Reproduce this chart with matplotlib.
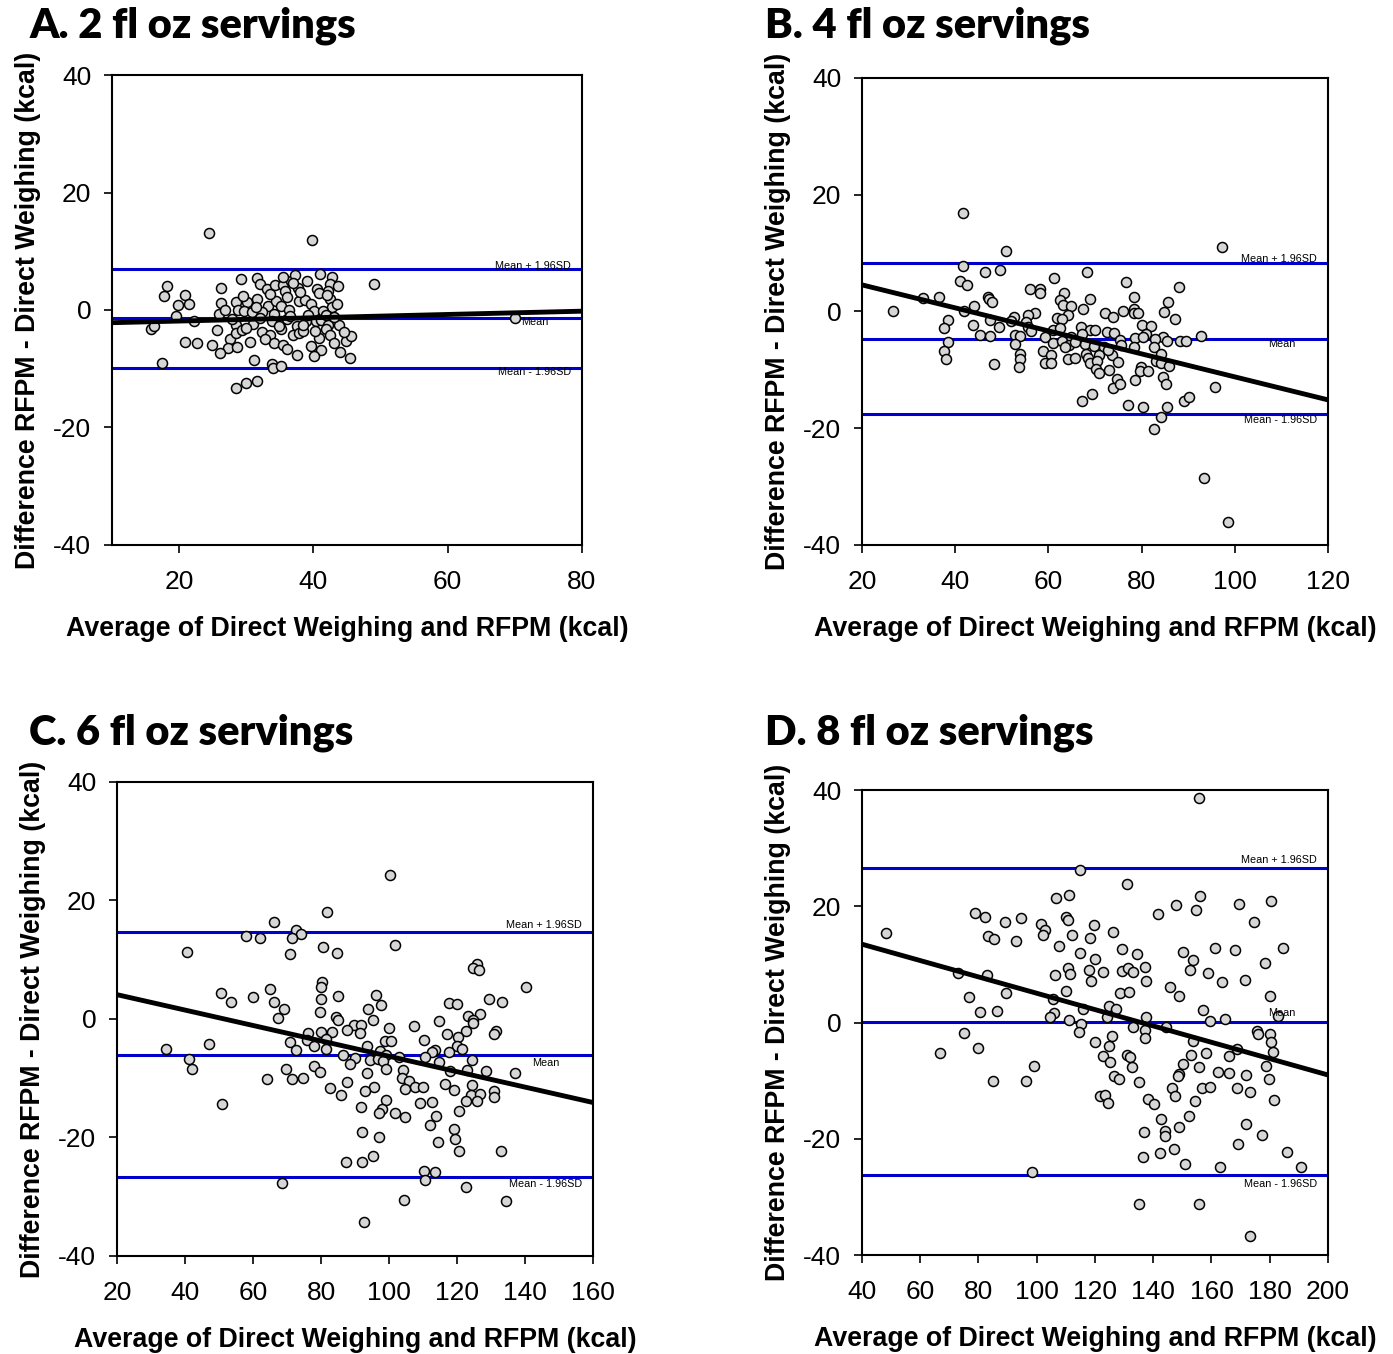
import numpy as np
import matplotlib
matplotlib.use("Agg")
import matplotlib.pyplot as plt

plt.rcParams['font.family'] = ['Liberation Sans', 'DejaVu Sans']
plt.rcParams['axes.unicode_minus'] = False

# --- A. 2 fl oz ---
a_avg = [24.4, 39.8, 49.0, 18.2, 17.8, 26.3, 29.2, 31.6, 32.0, 33.1, 34.3, 35.4, 35.8, 36.7, 37.3, 37.7,
         39.1, 40.5, 41.0, 42.7, 42.5, 43.7, 42.1, 20.9, 19.8, 21.5, 19.5, 26.3, 28.5, 30.1, 31.6, 33.3,
         34.5, 35.1, 36.0, 37.9, 38.8, 39.6, 42.4, 42.8, 40.1, 41.5, 26.0, 26.9, 28.8, 29.6, 30.9, 32.3,
         34.2, 36.4, 15.8, 16.3, 22.2, 25.7, 28.5, 31.0, 32.0, 33.8, 35.2, 36.0, 37.5, 38.9, 40.4, 41.2,
         42.1, 43.8, 27.6, 28.5, 29.3, 32.3, 33.5, 35.2, 36.9, 37.9, 38.4, 40.8, 41.9, 42.5, 20.9, 22.6,
         24.9, 27.3, 28.6, 30.6, 34.2, 35.4, 36.1, 39.6, 41.1, 43.1, 44.8, 45.6, 26.1, 31.1, 37.5, 40.1,
         44.0, 45.5, 17.4, 33.9, 34.0, 35.2, 28.4, 29.9, 31.6, 70.0,
         33.5, 38.0, 40.8, 36.5, 39.2, 41.8, 43.0, 34.8, 30.0, 37.0, 42.0, 35.5, 38.5, 40.2, 32.8, 44.5,
         27.8, 29.5, 31.5, 43.5]
a_diff = [13.1, 11.9, 4.5, 4.1, 2.4, 3.7, 5.2, 5.5, 4.5, 3.6, 4.3, 4.3, 3.2, 5.0, 6.0, 3.7,
          4.9, 3.6, 6.1, 5.7, 4.5, 4.0, 3.3, 2.5, 0.8, 1.0, -1.0, 1.2, 1.4, 1.4, 1.8, 0.7,
          1.6, 0.6, 2.2, 1.6, 1.7, 1.0, 1.9, 0.5, -0.1, -0.1, -0.7, 0.0, 0.0, -0.1, -0.4, -0.3,
          -0.6, 0.0, -3.3, -2.7, -1.8, -3.4, -2.6, -2.3, -1.4, -1.8, -1.8, -1.5, -2.7, -1.9, -1.9, -1.7,
          -2.6, -2.5, -4.9, -4.0, -3.4, -3.7, -4.3, -3.2, -4.3, -4.0, -3.6, -4.8, -3.2, -4.3, -5.4, -5.7,
          -5.9, -6.4, -6.3, -5.4, -5.6, -6.0, -6.6, -6.1, -6.8, -5.7, -5.2, -4.5, -7.3, -8.5, -7.7, -7.9,
          -7.1, -8.2, -9.1, -9.2, -9.9, -9.6, -13.2, -12.4, -12.1, -1.4,
          2.8, 3.0, 2.9, -1.0, -0.8, -0.9, -1.2, -2.8, -3.0, 4.6, 2.5, 5.6, -2.5, -3.5, -5.0, -3.8,
          -1.6, 2.4, 0.5, 1.0]

# --- B. 4 fl oz ---
b_avg = [41.6, 97.3, 50.8, 41.7, 46.5, 49.7, 68.2, 61.3, 41.0, 42.5, 76.6, 88.1, 56.1, 58.1, 58.1, 63.3,
         78.4, 33.2, 36.5, 47.0, 47.3, 48.0, 62.5, 69.0, 85.7, 44.1, 63.2, 64.9, 67.4, 78.4, 26.7, 42.0,
         57.2, 55.6, 72.1, 76.0, 78.4, 79.3, 84.9, 64.2, 73.8, 61.8, 62.9, 38.4, 47.5, 52.6, 51.9, 87.1,
         55.3, 37.7, 43.9, 49.4, 55.6, 56.3, 67.1, 68.9, 69.9, 61.0, 62.5, 80.1, 82.1, 72.5, 74.1, 45.4,
         47.5, 52.8, 53.9, 59.2, 64.8, 67.2, 80.9, 84.7, 92.7, 38.4, 52.8, 60.9, 63.0, 64.4, 67.8, 75.3,
         78.5, 80.4, 82.8, 85.5, 88.2, 89.6, 63.5, 65.8, 69.8, 72.0, 75.6, 78.3, 82.6, 37.7, 58.9, 54.0,
         60.6, 68.1, 70.9, 73.7, 72.9, 84.2, 38.0, 54.0, 64.3, 65.7, 68.5, 68.9, 70.4, 74.9, 83.2, 84.2,
         85.8, 48.4, 53.6, 59.2, 60.5, 70.3, 70.9, 73.0, 79.9, 79.7, 81.4, 84.7, 85.2, 74.7, 73.8, 75.4,
         78.5, 95.7, 69.3, 67.3, 77.1, 80.4, 85.5, 89.2, 90.2, 84.2, 82.7, 93.4, 98.5]
b_diff = [16.9, 11.0, 10.3, 7.8, 6.7, 7.1, 6.8, 5.8, 5.2, 4.6, 5.0, 4.2, 3.9, 3.9, 3.1, 3.1,
          2.5, 2.3, 2.5, 2.5, 2.1, 1.7, 1.9, 2.1, 1.7, 1.0, 1.1, 1.0, 0.5, 0.5, 0.1, 0.1,
          -0.2, -0.6, -0.2, 0.0, -0.2, -0.2, -0.1, -0.6, -0.9, -1.2, -1.3, -1.4, -1.4, -1.0, -1.7, -1.3,
          -1.8, -2.8, -2.3, -2.6, -2.6, -3.4, -2.7, -3.1, -3.1, -3.1, -2.9, -2.3, -2.5, -3.5, -3.7, -4.0,
          -4.2, -4.0, -4.2, -4.3, -4.3, -3.9, -3.8, -4.3, -4.2, -5.3, -5.5, -5.4, -5.1, -5.7, -5.6, -4.8,
          -4.6, -4.4, -4.7, -5.1, -5.0, -5.1, -6.0, -5.3, -5.9, -6.1, -5.8, -6.1, -6.1, -6.8, -6.7, -7.3,
          -7.4, -7.3, -7.4, -7.5, -6.6, -7.2, -8.2, -8.1, -8.1, -7.9, -7.9, -8.8, -8.5, -8.7, -8.5, -8.8,
          -9.4, -9.0, -9.5, -8.9, -8.9, -9.9, -10.6, -10.1, -9.5, -10.2, -10.2, -11.2, -12.4, -11.6, -13.1, -12.4,
          -11.8, -13.0, -14.2, -15.3, -16.0, -16.4, -16.3, -15.4, -14.7, -18.0, -20.1, -28.6, -36.0]

# --- C. 6 fl oz ---
c_avg = [100.4, 81.9, 66.3, 72.5, 74.2, 57.8, 62.0, 71.5, 101.9, 40.5, 80.7, 84.6, 70.9, 125.8, 124.6, 126.4,
         140.3, 80.3, 80.0, 65.0, 50.6, 59.9, 79.9, 84.9, 129.3, 133.3, 53.4, 66.3, 117.5, 120.1, 96.1, 97.5,
         69.1, 93.8, 79.7, 67.4, 84.4, 84.9, 95.2, 114.7, 123.1, 126.7, 124.8, 124.6, 89.7, 91.7, 107.4, 100.0,
         87.6, 91.6, 122.5, 131.6, 131.0, 117.2, 76.1, 79.9, 83.1, 81.4, 75.9, 71.0, 98.8, 100.5, 110.2, 120.4,
         93.4, 78.0, 81.4, 72.6, 34.3, 47.2, 119.9, 121.6, 113.6, 112.7, 117.7, 97.3, 86.6, 99.2, 90.0, 94.3,
         96.8, 102.9, 110.5, 114.8, 124.3, 41.1, 42.1, 88.5, 98.1, 99.2, 104.0, 117.9, 122.8, 128.6, 137.0, 69.7,
         77.9, 79.6, 93.5, 64.1, 71.4, 74.8, 103.8, 105.8, 107.5, 110.0, 116.5, 119.1, 124.5, 87.5, 82.5, 95.6,
         93.0, 104.8, 130.8, 124.1, 126.9, 130.9, 85.8, 50.8, 99.1, 109.1, 112.6, 122.5, 125.9, 91.9, 97.9, 97.0,
         101.7, 104.8, 113.9, 120.6, 112.2, 119.2, 92.2, 97.2, 114.3, 119.5, 120.7, 133.0, 87.3, 92.0, 95.3, 110.3,
         113.5, 110.5, 68.6, 122.5, 104.3, 134.3, 92.7]
c_diff = [24.3, 18.0, 16.4, 15.0, 14.3, 14.0, 13.6, 13.6, 12.4, 11.3, 12.2, 11.1, 11.0, 9.2, 8.6, 8.3,
          5.4, 6.3, 5.4, 5.1, 4.3, 3.7, 3.4, 3.8, 3.4, 2.9, 2.8, 2.8, 2.7, 2.6, 4.1, 2.4,
          1.6, 1.7, 1.2, 0.2, 0.4, -0.1, -0.2, -0.4, 0.5, 0.8, -0.2, -0.7, -1.0, -1.1, -1.2, -1.5,
          -1.9, -2.3, -2.0, -2.0, -2.6, -2.5, -2.3, -2.2, -2.2, -3.3, -3.5, -3.9, -3.7, -3.8, -3.5, -3.1,
          -4.6, -4.6, -5.0, -5.3, -5.0, -4.3, -4.5, -5.1, -5.2, -5.6, -5.6, -5.4, -6.1, -6.1, -6.6, -6.9,
          -6.8, -6.5, -6.4, -7.3, -6.9, -6.8, -8.4, -7.6, -7.1, -8.4, -8.6, -8.8, -8.6, -8.8, -9.2, -8.4,
          -7.9, -8.9, -9.1, -10.1, -10.1, -10.0, -9.9, -10.5, -11.4, -11.5, -11.0, -12.0, -11.2, -10.7, -11.7, -11.4,
          -12.1, -11.9, -12.1, -12.8, -12.7, -13.2, -12.9, -14.3, -13.6, -14.2, -14.0, -13.8, -13.8, -14.9, -15.2, -15.9,
          -15.8, -16.5, -16.4, -15.5, -17.9, -18.5, -19.1, -20.0, -20.8, -20.3, -22.3, -22.3, -24.1, -24.1, -23.1, -25.7,
          -25.9, -27.2, -27.7, -28.3, -30.5, -30.8, -34.2]

# --- D. 8 fl oz ---
d_avg = [155.6, 114.9, 131.0, 106.6, 111.2, 156.2, 169.3, 180.4, 147.9, 154.8, 141.5, 78.7, 82.3, 110.0, 110.6, 94.5,
         89.1, 101.6, 102.9, 119.7, 174.6, 126.3, 48.2, 83.1, 85.4, 93.0, 102.0, 112.2, 118.4, 107.5, 129.2, 115.0,
         134.4, 150.3, 161.2, 168.0, 184.6, 119.9, 153.5, 178.4, 110.6, 111.4, 117.9, 122.9, 129.2, 131.3, 133.2, 137.2,
         152.8, 158.9, 106.2, 118.5, 137.4, 163.5, 171.4, 73.1, 82.9, 110.2, 128.5, 131.8, 145.8, 149.0, 180.0, 76.9,
         89.6, 105.7, 124.7, 127.2, 116.0, 157.2, 80.6, 86.2, 106.0, 104.4, 124.0, 137.5, 159.4, 164.5, 182.7, 111.1,
         115.1, 114.5, 133.0, 137.2, 144.3, 75.1, 125.7, 175.5, 176.1, 180.0, 180.4, 181.3, 120.0, 124.9, 137.2, 153.5,
         168.8, 66.8, 79.7, 122.6, 130.9, 132.2, 153.0, 158.0, 165.9, 125.2, 132.7, 150.2, 155.8, 178.7, 99.2, 148.7,
         148.4, 162.2, 165.9, 171.8, 179.7, 84.9, 96.4, 126.5, 128.4, 135.2, 121.7, 123.3, 124.6, 138.3, 140.1, 146.4,
         147.5, 156.6, 159.4, 168.6, 173.1, 181.5, 154.3, 142.7, 152.4, 148.8, 171.7, 177.5, 136.8, 143.9, 144.1, 169.2,
         136.6, 142.5, 147.2, 150.8, 163.0, 185.9, 190.7, 98.4, 135.1, 155.6, 173.1]
d_diff = [38.6, 26.3, 23.8, 21.5, 21.9, 21.7, 20.4, 20.9, 20.3, 19.3, 18.6, 18.9, 18.2, 18.2, 17.7, 18.0,
          17.3, 16.9, 15.9, 16.8, 17.3, 15.6, 15.4, 14.9, 14.3, 14.1, 15.1, 15.0, 14.6, 13.1, 12.7, 12.0,
          11.8, 12.1, 12.8, 12.4, 12.8, 10.9, 10.8, 10.2, 9.3, 8.4, 9.1, 8.7, 8.8, 9.4, 8.7, 9.5,
          9.1, 8.5, 8.1, 7.2, 7.2, 6.9, 7.4, 8.6, 8.1, 5.4, 5.0, 5.2, 6.1, 4.5, 4.6, 4.4,
          5.0, 4.1, 2.8, 2.4, 2.4, 2.1, 1.8, 2.0, 1.7, 1.0, 0.9, 1.0, 0.3, 0.6, 1.1, 0.5,
          -0.2, -1.7, -0.7, -1.2, -0.7, -1.8, -2.4, -1.4, -1.9, -2.0, -3.4, -5.0, -3.3, -4.0, -2.6, -3.1,
          -4.5, -5.3, -4.4, -5.7, -5.5, -6.0, -5.6, -5.2, -5.7, -6.8, -7.7, -7.2, -7.7, -7.5, -7.4, -8.8,
          -9.2, -8.5, -8.7, -9.1, -9.7, -10.0, -10.0, -9.2, -9.7, -10.3, -12.6, -12.5, -13.9, -13.1, -14.1, -11.2,
          -12.7, -11.3, -11.1, -11.3, -11.9, -13.4, -13.5, -16.6, -16.0, -17.9, -17.4, -19.4, -18.8, -18.6, -19.5, -20.9,
          -23.1, -22.5, -21.7, -24.3, -24.8, -22.3, -24.8, -25.8, -31.3, -31.3, -36.7]

titles = ["A. 2 fl oz servings", "B. 4 fl oz servings", "C. 6 fl oz servings", "D. 8 fl oz servings"]
# mean, mean + 1.96SD, mean - 1.96SD
agreement = [(-1.4, 7.0, -9.8), (-4.7, 8.3, -17.6), (-6.1, 14.6, -26.7), (0.15, 26.6, -26.3)]
# regression of difference on average: (intercept, slope)
regression = [(-2.44, 0.028), (8.5, -0.197), (6.7, -0.13), (19.1, -0.1406)]
x_ranges = [(10, 80), (20, 120), (20, 160), (40, 200)]
x_ticks = [[20, 40, 60, 80], [20, 40, 60, 80, 100, 120],
           [20, 40, 60, 80, 100, 120, 140, 160], [40, 60, 80, 100, 120, 140, 160, 180, 200]]

data = [(a_avg, a_diff), (b_avg, b_diff), (c_avg, c_diff), (d_avg, d_diff)]

# layout (figure fractions) and label offsets in pixels
rects = [[0.0804, 0.5975, 0.3374, 0.3471], [0.6188, 0.5975, 0.3345, 0.3449],
         [0.0840, 0.0724, 0.3417, 0.3501], [0.6188, 0.0731, 0.3345, 0.3434]]
title_pos = [(0.021, 0.981), (0.549, 0.981), (0.021, 0.459), (0.549, 0.459)]
lab_dy = [(3, -4, -4), (4, -5, -6), (7, -8, -7), (8, 9, -9)]

fig = plt.figure(figsize=(13.93, 13.54), dpi=100)

for i in range(4):
    ax = fig.add_axes(rects[i])
    avg, diff = data[i]
    m, up, lo = agreement[i]
    b0, b1 = regression[i]
    x0, x1 = x_ranges[i]

    for v in (up, m, lo):
        ax.axhline(v, color='#0000cc', lw=2.2, zorder=1)
    ax.scatter(avg, diff, s=52, facecolor='#d6d6d6', edgecolor='black',
               linewidths=1.1, zorder=2)
    xs = np.array([x0, x1])
    ax.plot(xs, b0 + b1 * xs, color='black', lw=3.5, zorder=3, solid_capstyle='butt')

    tr = ax.get_yaxis_transform()
    dy = lab_dy[i]
    ax.annotate("Mean + 1.96SD", xy=(0.977, up), xycoords=tr, xytext=(0, dy[0]),
                textcoords='offset pixels', ha='right', va='center', fontsize=7.8, zorder=4)
    ax.annotate("Mean", xy=(0.9, m), xycoords=tr, xytext=(0, dy[1]),
                textcoords='offset pixels', ha='center', va='center', fontsize=7.8, zorder=4)
    ax.annotate("Mean - 1.96SD", xy=(0.977, lo), xycoords=tr, xytext=(0, dy[2]),
                textcoords='offset pixels', ha='right', va='center', fontsize=7.8, zorder=4)

    ax.set_xlim(x0, x1)
    ax.set_ylim(-40, 40)
    ax.set_xticks(x_ticks[i])
    ax.set_yticks([-40, -20, 0, 20, 40])
    ax.tick_params(direction='out', length=6, width=1.2, labelsize=19)
    ax.tick_params(axis='x', pad=12)
    ax.tick_params(axis='y', pad=9)
    for s in ax.spines.values():
        s.set_linewidth(1.5)
    ax.set_xlabel("Average of Direct Weighing and RFPM (kcal)", fontsize=19.3,
                  fontweight='bold', labelpad=16)
    ax.set_ylabel("Difference RFPM - Direct Weighing (kcal)", fontsize=19.3,
                  fontweight='bold', labelpad=9)

    fig.text(title_pos[i][0], title_pos[i][1], titles[i], fontsize=30,
             fontweight='heavy', family=['Lato', 'DejaVu Sans'], ha='left', va='center')

fig.savefig("out.png", dpi=100, facecolor='white')
